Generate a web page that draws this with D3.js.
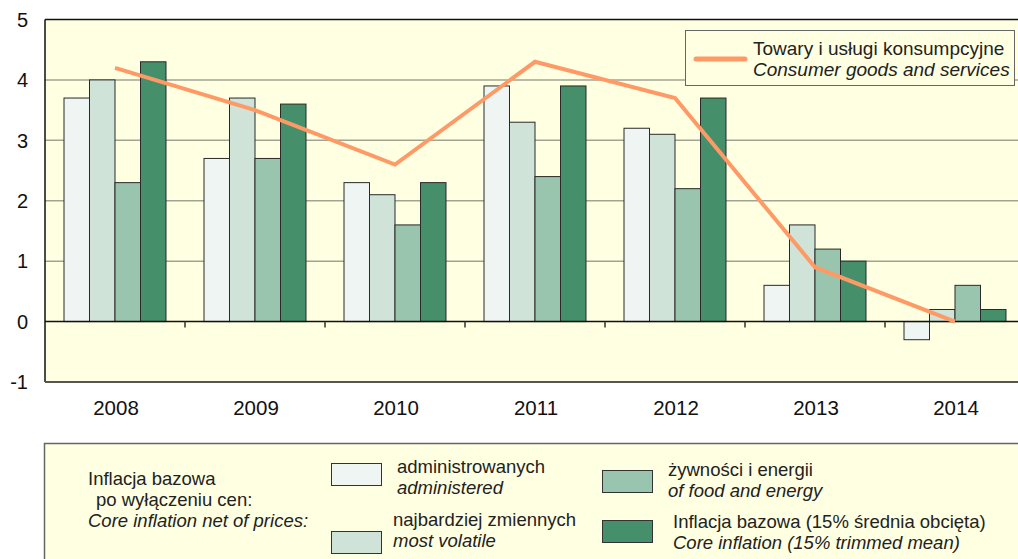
<!DOCTYPE html>
<html>
<head>
<meta charset="utf-8">
<script src="https://cdn.jsdelivr.net/npm/d3@7"></script>
<style>
  body { margin: 0; background: #fff; }
  svg { display: block; font-family: "Liberation Sans", Arial, sans-serif; }
</style>
</head>
<body>
<svg id="chart" width="1018" height="559"></svg>
<script>
// data
var years = ["2008", "2009", "2010", "2011", "2012", "2013", "2014"]
var keys = ["administered", "volatile", "food", "trimmed"]
var administered = [3.7, 2.7, 2.3, 3.9, 3.2, 0.6, -0.3]
var volatile = [4.0, 3.7, 2.1, 3.3, 3.1, 1.6, 0.2]
var foodEnergy = [2.3, 2.7, 1.6, 2.4, 2.2, 1.2, 0.6]
var trimmed = [4.3, 3.6, 2.3, 3.9, 3.7, 1.0, 0.2]
var consumer = [4.2, 3.5, 2.6, 4.3, 3.7, 0.9, 0.0]
var yTicks = [-1, 0, 1, 2, 3, 4, 5]

var series = { administered: administered, volatile: volatile, food: foodEnergy, trimmed: trimmed }
var data = years.map((y, i) => {
    var row = { key: y }
    keys.forEach(k => { row[k] = series[k][i] })
    return row
})

var svg = d3.select("#chart")
var margin = { top: 19.5, left: 45, bottom: 382, right: 1025 }

var x0 = d3.scaleBand()
    .domain(years)
    .range([margin.left, margin.right])

var x1 = d3.scaleBand()
    .domain(keys)
    .range([19, 121])

var y = d3.scaleLinear()
    .domain([-1, 5])
    .range([margin.bottom, margin.top])

var color = d3.scaleOrdinal()
    .domain(keys)
    .range(["#eef5f2", "#cfe3d8", "#99c4ad", "#458f6a"])

// plot background
svg.append("rect")
    .attr("x", margin.left)
    .attr("y", margin.top)
    .attr("width", margin.right - margin.left)
    .attr("height", margin.bottom - margin.top)
    .attr("fill", "#ffffe2")

// gridlines
svg.append("g")
    .selectAll("line")
    .data([1, 2, 3, 4])
    .enter()
    .append("line")
    .attr("x1", margin.left)
    .attr("x2", margin.right)
    .attr("y1", d => y(d))
    .attr("y2", d => y(d))
    .attr("stroke", "#a3a394")
    .attr("stroke-width", 1.5)

// y labels
svg.append("g")
    .selectAll("text")
    .data(yTicks)
    .enter()
    .append("text")
    .attr("x", 28)
    .attr("y", d => y(d))
    .attr("dy", "0.36em")
    .attr("text-anchor", "end")
    .attr("font-size", 20)
    .attr("fill", "#111")
    .text(d => d)

// bars
svg.append("g")
    .selectAll("g")
    .data(data)
    .enter()
    .append("g")
    .attr("transform", d => `translate(${x0(d.key)},0)`)
    .selectAll("rect")
    .data(d => keys.map(key => ({ key, value: d[key] })))
    .enter()
    .append("rect")
    .attr("x", d => x1(d.key))
    .attr("y", d => y(Math.max(0, d.value)))
    .attr("width", x1.bandwidth())
    .attr("height", d => Math.abs(y(0) - y(d.value)))
    .attr("fill", d => color(d.key))
    .attr("stroke", "#2a2a2a")
    .attr("stroke-width", 1)

// zero axis with ticks at category boundaries
var xAxis = g => g
    .attr("transform", `translate(0,${y(0)})`)
    .call(g => g.append("line")
        .attr("x1", margin.left).attr("x2", margin.right)
        .attr("stroke", "#111").attr("stroke-width", 1.5))
    .call(g => g.selectAll(".tk")
        .data(years.slice(1))
        .enter()
        .append("line")
        .attr("x1", d => x0(d)).attr("x2", d => x0(d))
        .attr("y1", 0).attr("y2", 6)
        .attr("stroke", "#333").attr("stroke-width", 1.5))
svg.append("g").call(xAxis)

// line series
var line = d3.line()
    .x((d, i) => x0(years[i]) + x0.bandwidth() / 2)
    .y(d => y(d))
svg.append("path")
    .datum(consumer)
    .attr("d", line)
    .attr("fill", "none")
    .attr("stroke", "#ff9a66")
    .attr("stroke-width", 4)

// frame
svg.append("line")
    .attr("x1", margin.left).attr("x2", margin.right)
    .attr("y1", margin.top).attr("y2", margin.top)
    .attr("stroke", "#111").attr("stroke-width", 1.5)
svg.append("line")
    .attr("x1", margin.left).attr("x2", margin.left)
    .attr("y1", margin.top).attr("y2", margin.bottom)
    .attr("stroke", "#111").attr("stroke-width", 1.5)
svg.append("line")
    .attr("x1", margin.left).attr("x2", margin.right)
    .attr("y1", margin.bottom).attr("y2", margin.bottom)
    .attr("stroke", "#555").attr("stroke-width", 2)

// x labels
svg.append("g")
    .selectAll("text")
    .data(years)
    .enter()
    .append("text")
    .attr("x", d => x0(d) + x0.bandwidth() / 2 + 1)
    .attr("y", 415)
    .attr("text-anchor", "middle")
    .attr("font-size", 20.5)
    .attr("fill", "#111")
    .text(d => d)

// line legend (inside plot)
var lg = svg.append("g")
lg.append("rect")
    .attr("x", 685.5).attr("y", 30.5)
    .attr("width", 329).attr("height", 55)
    .attr("fill", "#ffffe2")
    .attr("stroke", "#666").attr("stroke-width", 1)
lg.append("line")
    .attr("x1", 696).attr("x2", 745)
    .attr("y1", 59).attr("y2", 59)
    .attr("stroke", "#ff9a66").attr("stroke-width", 5)
    .attr("stroke-linecap", "round")
lg.append("text")
    .attr("x", 753).attr("y", 54.5)
    .attr("font-size", 19).attr("fill", "#222")
    .text("Towary i usługi konsumpcyjne")
lg.append("text")
    .attr("x", 753).attr("y", 76)
    .attr("font-size", 19).attr("font-style", "italic").attr("fill", "#222")
    .text("Consumer goods and services")

// bar legend (bottom)
var bl = svg.append("g")
bl.append("rect")
    .attr("x", 44.5).attr("y", 443.5)
    .attr("width", 1000).attr("height", 130)
    .attr("fill", "#ffffe2")
    .attr("stroke", "#666").attr("stroke-width", 1.5)

var introLines = [
    { t: "Inflacja bazowa", x: 88, y: 485, it: false },
    { t: "po wyłączeniu cen:", x: 96, y: 506, it: false },
    { t: "Core inflation net of prices:", x: 88, y: 527, it: true }
]
bl.selectAll(".intro")
    .data(introLines)
    .enter()
    .append("text")
    .attr("x", d => d.x).attr("y", d => d.y)
    .attr("font-size", 18.5).attr("fill", "#222")
    .attr("font-style", d => d.it ? "italic" : "normal")
    .text(d => d.t)

var legendItems = [
    { key: "administered", pl: "administrowanych", en: "administered", sx: 331, sy: 463, tx: 397, ty: 473 },
    { key: "volatile", pl: "najbardziej zmiennych", en: "most volatile", sx: 331, sy: 531, tx: 393, ty: 526 },
    { key: "food", pl: "żywności i energii", en: "of food and energy", sx: 602, sy: 470, tx: 668, ty: 476 },
    { key: "trimmed", pl: "Inflacja bazowa (15% średnia obcięta)", en: "Core inflation (15% trimmed mean)", sx: 602, sy: 520, tx: 673, ty: 528 }
]
var item = bl.selectAll(".item")
    .data(legendItems)
    .enter()
    .append("g")
item.append("rect")
    .attr("x", d => d.sx + 0.5).attr("y", d => d.sy + 0.5)
    .attr("width", 50).attr("height", 22)
    .attr("fill", d => color(d.key))
    .attr("stroke", "#333").attr("stroke-width", 1)
item.append("text")
    .attr("x", d => d.tx).attr("y", d => d.ty)
    .attr("font-size", 18.5).attr("fill", "#222")
    .text(d => d.pl)
item.append("text")
    .attr("x", d => d.tx).attr("y", d => d.ty + 21)
    .attr("font-size", 18.5).attr("font-style", "italic").attr("fill", "#222")
    .text(d => d.en)
</script>
</body>
</html>
